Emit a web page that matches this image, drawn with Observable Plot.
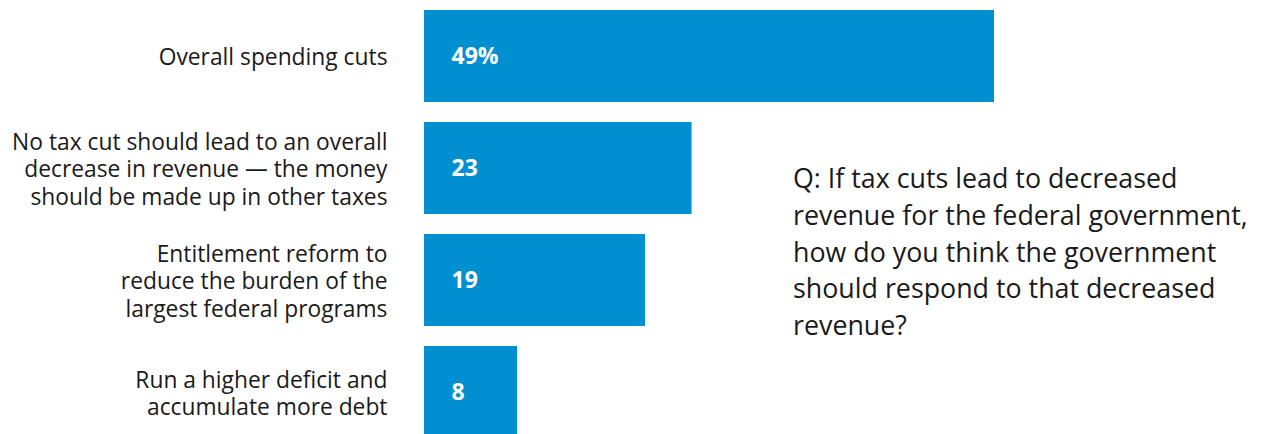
<!DOCTYPE html>
<html>
<head>
<meta charset="utf-8">
<script src="https://cdn.jsdelivr.net/npm/d3@7"></script>
<script src="https://cdn.jsdelivr.net/npm/@observablehq/plot@0.6"></script>
<style>
  html, body { margin: 0; padding: 0; background: #fff; overflow: hidden; }
  #wrap { position: relative; width: 1265px; height: 434px; }
  #q { position: absolute; left: 793px; top: 160px; width: 470px; white-space: pre-line;
       font-family: "Open Sans", sans-serif; font-size: 26.8px; line-height: 36.8px; color: #1a1a1a; }
</style>
</head>
<body>
<div id="wrap">
  <div id="chart"></div>
  <div id="q"></div>
</div>
<script>
const categories = [
  "Overall spending cuts",
  "No tax cut should lead to an overall\ndecrease in revenue — the money\nshould be made up in other taxes",
  "Entitlement reform to\nreduce the burden of the\nlargest federal programs",
  "Run a higher deficit and\naccumulate more debt"
];
const values = [49, 23, 19, 8];
const valueLabels = ["49%", "23", "19", "8"];
const question = "Q: If tax cuts lead to decreased\nrevenue for the federal government,\nhow do you think the government\nshould respond to that decreased\nrevenue?";

const data = categories.map((c, i) => ({category: c, value: values[i], label: valueLabels[i]}));

const chart = Plot.plot({
  width: 1265,
  height: 434,
  marginLeft: 424,
  marginRight: 271,
  marginTop: 0,
  marginBottom: 0,
  style: {fontFamily: "'Open Sans', sans-serif", background: "#fff", overflow: "hidden"},
  x: {domain: [0, 49], axis: null},
  y: {domain: categories, range: [9, 438], paddingInner: 0.181, paddingOuter: 0, label: null},
  marks: [
    Plot.barX(data, {y: "category", x: "value", fill: "#008fd0"}),
    Plot.text(data, {y: "category", x: 0, text: "label", textAnchor: "start", dx: 27,
      fill: "white", fontWeight: "bold", fontSize: 23}),
    Plot.axisY({tickSize: 0, tickPadding: 37, fontSize: 22.8, lineHeight: 1.2,
      color: "#1a1a1a", label: null})
  ]
});
document.getElementById("chart").appendChild(chart);
document.getElementById("q").textContent = question;
</script>
</body>
</html>
